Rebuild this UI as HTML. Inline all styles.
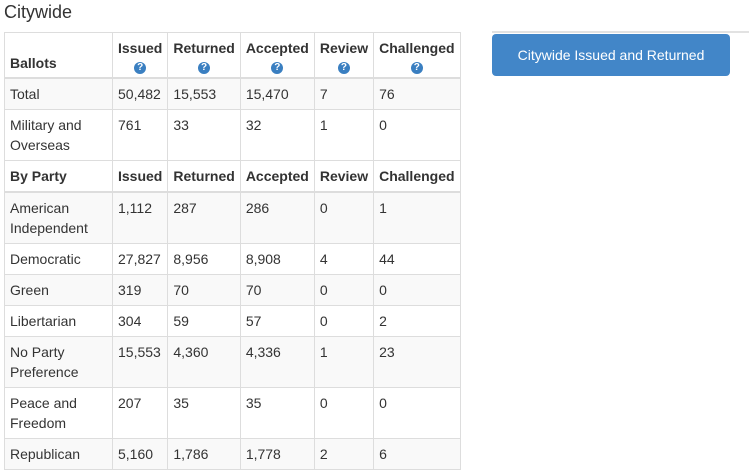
<!DOCTYPE html>
<html>
<head>
<meta charset="utf-8">
<style>
  html, body { margin:0; padding:0; background:#fff; }
  body { width:749px; height:459px; overflow:hidden; position:relative;
         font-family:"Liberation Sans", Arial, sans-serif; color:#333; font-size:14px; }
  .title { position:absolute; left:4px; top:0px; font-size:18px; line-height:24px; font-weight:normal; color:#333; }
  table { position:absolute; left:4px; top:32px; border-collapse:separate; border-spacing:0;
          border-top:1px solid #ddd; border-left:1px solid #ddd; table-layout:fixed; }
  td, th { border-right:1px solid #ddd; border-bottom:1px solid #ddd; padding:5px; line-height:20px;
           vertical-align:top; text-align:left; font-size:14px; white-space:nowrap; }
  th { font-weight:bold; }
  thead th { border-bottom:2px solid #ddd; vertical-align:bottom; text-align:center; }
  thead th.first { text-align:left; padding-bottom:4px; }
  tr.sub th { border-bottom:2px solid #ddd; text-align:left; }
  tr.s td { background:#f9f9f9; }
  .qline { height:14px; position:relative; }
  .q { position:absolute; left:50%; top:4px; margin-left:-6px; width:12px; height:12px; border-radius:50%; background:#3a7fc1;
       color:#fff; font-size:10px; line-height:12px; font-weight:bold; text-align:center; }
  .btn { position:absolute; left:492px; top:34px; width:238px; height:42px; background:#4286c8;
         border-radius:4px; color:#fff; font-size:14px; line-height:42px; text-align:center; }
  .rule { position:absolute; left:492px; top:31px; width:257px; height:2px; background:#e2e2e2; }
</style>
</head>
<body>
<div class="title">Citywide</div>
<table>
  <colgroup>
    <col style="width:108px"><col style="width:54px"><col style="width:72px"><col style="width:73px"><col style="width:58px"><col style="width:86px">
  </colgroup>
  <thead>
    <tr>
      <th class="first">Ballots</th>
      <th>Issued<div class="qline"><span class="q">?</span></div></th>
      <th>Returned<div class="qline"><span class="q">?</span></div></th>
      <th>Accepted<div class="qline"><span class="q">?</span></div></th>
      <th>Review<div class="qline"><span class="q">?</span></div></th>
      <th>Challenged<div class="qline"><span class="q">?</span></div></th>
    </tr>
  </thead>
  <tbody>
    <tr class="s"><td>Total</td><td>50,482</td><td>15,553</td><td>15,470</td><td>7</td><td>76</td></tr>
    <tr><td>Military and<br>Overseas</td><td>761</td><td>33</td><td>32</td><td>1</td><td>0</td></tr>
    <tr class="sub"><th>By Party</th><th>Issued</th><th>Returned</th><th>Accepted</th><th>Review</th><th>Challenged</th></tr>
    <tr class="s"><td>American<br>Independent</td><td>1,112</td><td>287</td><td>286</td><td>0</td><td>1</td></tr>
    <tr><td>Democratic</td><td>27,827</td><td>8,956</td><td>8,908</td><td>4</td><td>44</td></tr>
    <tr class="s"><td>Green</td><td>319</td><td>70</td><td>70</td><td>0</td><td>0</td></tr>
    <tr><td>Libertarian</td><td>304</td><td>59</td><td>57</td><td>0</td><td>2</td></tr>
    <tr class="s"><td>No Party<br>Preference</td><td>15,553</td><td>4,360</td><td>4,336</td><td>1</td><td>23</td></tr>
    <tr><td>Peace and<br>Freedom</td><td>207</td><td>35</td><td>35</td><td>0</td><td>0</td></tr>
    <tr class="s"><td>Republican</td><td>5,160</td><td>1,786</td><td>1,778</td><td>2</td><td>6</td></tr>
  </tbody>
</table>
<div class="rule"></div>
<div class="btn">Citywide Issued and Returned</div>
</body>
</html>
